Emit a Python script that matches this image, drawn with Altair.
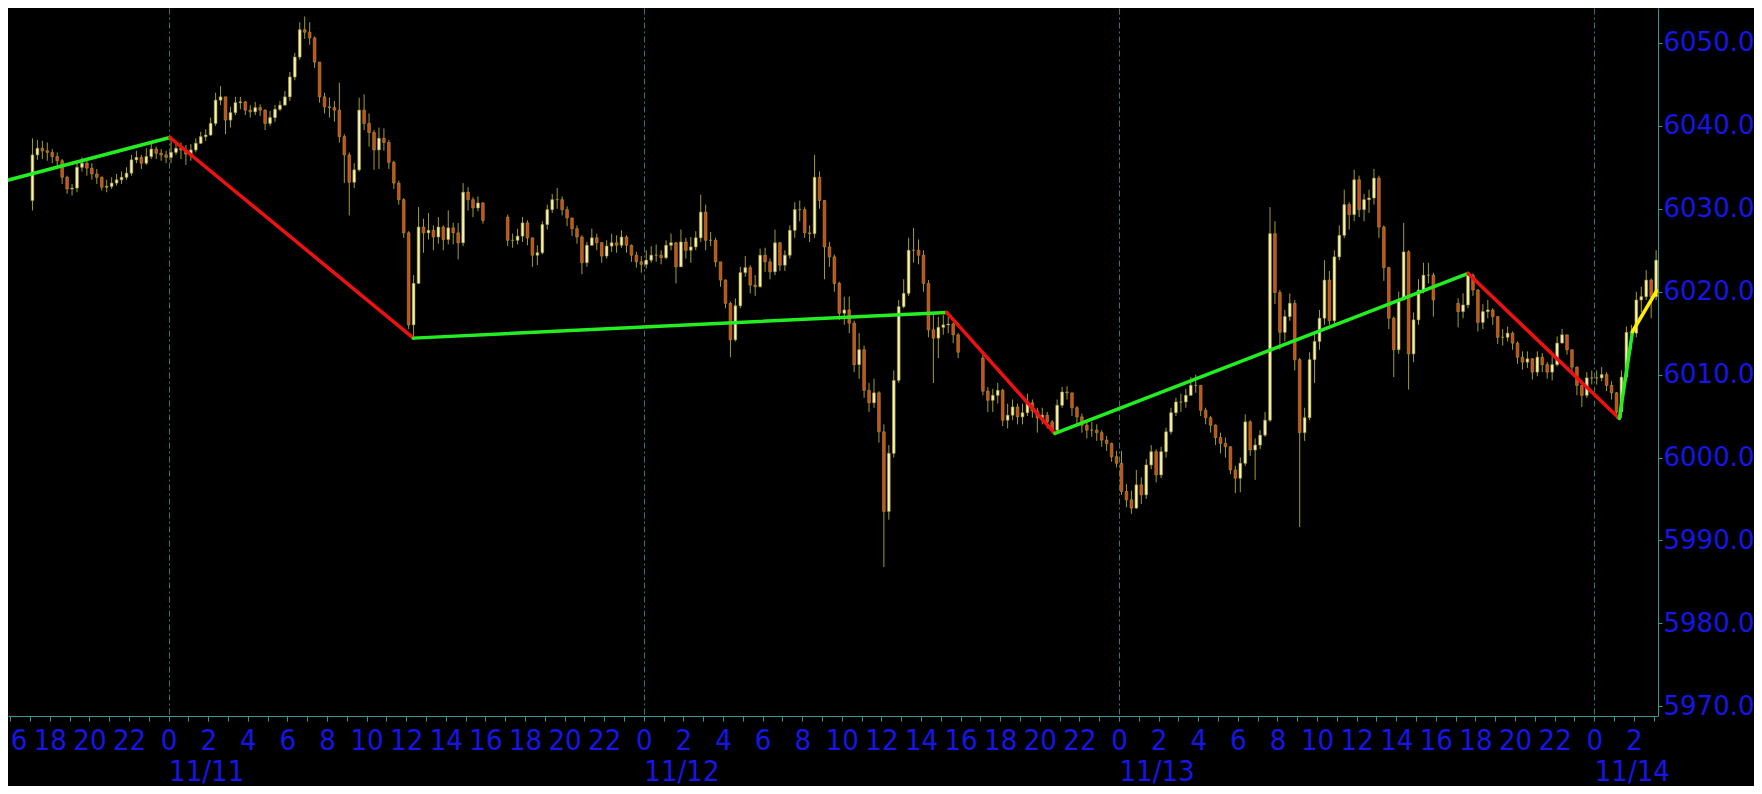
import altair as alt
import pandas as pd
from datetime import datetime

# ---------------- data (15-minute candles) ----------------
BASE = "2024-11-11 00:00"

s1_start = "2024-11-10 17:00"
s1_open = 6031.0
s1_close = [
    6036.5, 6037.3, 6037.0, 6036.8,
    6036.3, 6035.8, 6033.8, 6032.4,
    6032.5, 6035.0, 6035.5, 6034.9,
    6034.2, 6033.8, 6032.6, 6032.7,
    6033.1, 6033.5, 6033.8, 6034.3,
    6035.9, 6036.2, 6035.5, 6036.3,
    6037.2, 6036.7, 6036.5, 6036.2,
    6036.8, 6037.3, 6037.1, 6036.6,
    6037.1, 6037.9, 6038.7, 6038.9,
    6040.3, 6043.1, 6043.5, 6040.7,
    6041.6, 6042.8, 6042.9, 6041.9,
    6041.7, 6042.2, 6041.9, 6040.3,
    6041.0, 6042.0, 6042.5, 6043.5,
    6045.9, 6048.3, 6051.6, 6051.3,
    6050.6, 6047.7, 6043.5, 6042.3,
    6042.2, 6041.9, 6038.7, 6036.5,
    6033.2, 6034.7, 6041.9, 6040.3,
    6039.2, 6037.1, 6038.5, 6038.0,
    6035.6, 6033.1, 6031.1, 6027.1,
    6016.0, 6021.0, 6027.8, 6027.1,
    6027.4, 6026.6, 6027.8, 6026.3,
    6027.7, 6027.1, 6025.9, 6032.0,
    6031.1, 6030.1, 6030.7, 6028.6,
]
s1_high = [
    6038.5, 6038.3, 6038.2, 6038.0,
    6037.2, 6036.8, 6036.0, 6034.0,
    6033.0, 6035.5, 6036.2, 6035.8,
    6035.5, 6034.8, 6033.9, 6033.5,
    6033.8, 6034.2, 6034.5, 6035.0,
    6036.5, 6037.0, 6036.5, 6037.3,
    6038.2, 6037.5, 6037.2, 6037.0,
    6038.6, 6038.2, 6038.0, 6037.7,
    6037.8, 6038.5, 6039.3, 6039.6,
    6041.0, 6044.0, 6044.8, 6043.5,
    6042.3, 6043.5, 6043.5, 6043.0,
    6042.5, 6042.9, 6042.6, 6042.0,
    6041.8, 6042.5, 6043.0, 6044.2,
    6046.5, 6048.8, 6052.5, 6053.2,
    6052.5, 6050.8, 6047.7, 6044.0,
    6043.4, 6043.0, 6045.2, 6039.0,
    6036.8, 6035.5, 6043.4, 6043.8,
    6041.5, 6039.5, 6039.8, 6039.7,
    6038.3, 6035.8, 6033.4, 6031.3,
    6027.3, 6022.0, 6030.2, 6028.8,
    6029.5, 6028.0, 6029.0, 6028.0,
    6029.8, 6028.3, 6028.3, 6033.1,
    6032.6, 6031.4, 6031.5, 6030.8,
]
s1_low = [
    6029.8, 6035.9, 6036.0, 6035.8,
    6035.5, 6035.0, 6033.0, 6031.8,
    6031.6, 6032.0, 6034.5, 6034.0,
    6033.5, 6033.0, 6032.2, 6032.0,
    6032.4, 6032.8, 6033.0, 6033.5,
    6034.0, 6035.5, 6034.8, 6035.3,
    6036.0, 6036.0, 6035.8, 6035.5,
    6035.5, 6036.5, 6036.0, 6035.3,
    6035.8, 6036.8, 6037.8, 6038.2,
    6038.8, 6040.0, 6042.5, 6039.0,
    6039.8, 6041.3, 6042.0, 6041.3,
    6041.0, 6041.3, 6041.2, 6039.5,
    6040.0, 6040.5, 6041.8, 6042.5,
    6043.0, 6045.5, 6048.0, 6050.5,
    6049.8, 6047.0, 6042.8, 6041.5,
    6041.0, 6040.5, 6038.0, 6033.1,
    6029.2, 6032.5, 6034.5, 6039.5,
    6037.5, 6034.7, 6034.8, 6037.0,
    6034.8, 6032.4, 6030.5, 6026.5,
    6015.5, 6014.3, 6021.0, 6024.7,
    6026.3, 6025.0, 6025.8, 6025.0,
    6025.7, 6025.7, 6023.9, 6025.5,
    6029.8, 6029.0, 6029.7, 6028.2,
]

s2_start = "2024-11-11 17:00"
s2_open = 6029.0
s2_close = [
    6026.2, 6026.2, 6026.7, 6028.3,
    6026.5, 6024.4, 6024.7, 6028.1,
    6029.9, 6031.1, 6031.1, 6029.9,
    6028.9, 6027.6, 6026.6, 6023.5,
    6025.6, 6026.5, 6025.9, 6024.3,
    6025.5, 6025.9, 6025.6, 6026.6,
    6025.6, 6024.4, 6023.6, 6023.3,
    6023.8, 6024.4, 6024.4, 6024.1,
    6025.6, 6025.9, 6023.0, 6026.0,
    6025.0, 6025.4, 6026.5, 6029.6,
    6026.2, 6026.2, 6023.6, 6021.4,
    6018.6, 6014.2, 6018.3, 6022.3,
    6022.9, 6020.8, 6020.6, 6024.4,
    6023.6, 6022.4, 6025.9, 6023.2,
    6024.4, 6027.4, 6029.9, 6029.9,
    6027.1, 6027.0, 6033.8, 6031.0,
    6025.4, 6024.2, 6021.0, 6017.4,
    6017.8, 6016.2, 6011.2, 6013.0,
    6008.1, 6006.6, 6007.8, 6003.1,
    5993.5, 6000.5, 6009.3, 6018.2,
    6019.8, 6025.0, 6025.0, 6024.4,
    6021.0, 6015.4, 6014.4, 6015.7,
    6016.0, 6016.1, 6014.8, 6012.7,
]
s2_high = [
    6029.3, 6027.0, 6027.6, 6029.0,
    6028.6, 6026.3, 6025.6, 6028.5,
    6030.5, 6031.8, 6032.5, 6031.5,
    6030.3, 6028.8, 6028.0, 6026.8,
    6026.0, 6027.6, 6027.0, 6026.0,
    6026.2, 6027.0, 6026.8, 6027.4,
    6026.8, 6025.7, 6024.8, 6024.3,
    6025.0, 6025.5, 6025.7, 6025.0,
    6026.2, 6027.0, 6026.0, 6027.5,
    6026.5, 6026.6, 6027.3, 6031.7,
    6030.5, 6027.2, 6026.5, 6023.6,
    6021.5, 6018.8, 6019.2, 6023.0,
    6024.3, 6023.2, 6022.0, 6025.2,
    6025.3, 6024.0, 6027.5, 6026.0,
    6025.0, 6028.0, 6030.8, 6031.0,
    6030.2, 6028.0, 6036.5, 6034.5,
    6031.0, 6026.0, 6024.5, 6021.2,
    6019.4, 6019.4, 6016.5, 6015.0,
    6013.5, 6009.0, 6009.5, 6008.0,
    6004.0, 6001.5, 6010.5, 6019.0,
    6021.5, 6026.5, 6027.7, 6026.3,
    6025.0, 6021.4, 6017.5, 6017.0,
    6017.2, 6017.0, 6016.3, 6015.0,
]
s2_low = [
    6025.5, 6025.3, 6025.7, 6026.0,
    6025.6, 6023.0, 6023.2, 6024.5,
    6027.5, 6029.5, 6030.0, 6029.2,
    6027.9, 6026.7, 6025.8, 6022.1,
    6023.0, 6025.6, 6025.0, 6023.5,
    6024.0, 6024.8, 6024.7, 6025.3,
    6024.7, 6023.6, 6022.9, 6022.3,
    6022.8, 6023.5, 6023.6, 6023.3,
    6023.9, 6025.0, 6021.0, 6023.0,
    6024.0, 6023.5, 6025.0, 6026.0,
    6025.0, 6025.5, 6023.0, 6020.6,
    6018.0, 6012.1, 6014.0, 6018.0,
    6021.8, 6019.8, 6019.5, 6020.5,
    6022.4, 6021.5, 6022.0, 6022.5,
    6022.5, 6024.0, 6026.5, 6028.5,
    6026.5, 6026.0, 6026.5, 6030.0,
    6021.5, 6023.0, 6020.0, 6016.6,
    6016.0, 6015.0, 6010.3, 6009.5,
    6007.2, 6005.5, 6006.0, 6001.8,
    5986.8, 5992.5, 6000.0, 6009.0,
    6018.0, 6019.5, 6023.5, 6023.3,
    6020.0, 6014.5, 6009.0, 6012.0,
    6014.8, 6015.0, 6013.8, 6012.0,
]

s3_start = "2024-11-12 17:00"
s3_open = 6012.0
s3_close = [
    6008.0, 6006.9, 6007.5, 6008.1,
    6004.5, 6005.1, 6006.1, 6004.9,
    6005.4, 6006.6, 6005.6, 6004.8,
    6005.1, 6004.3, 6003.3, 6006.3,
    6007.9, 6007.8, 6006.0, 6004.9,
    6003.9, 6003.3, 6003.3, 6003.0,
    6002.1, 6001.7, 6000.1, 5999.3,
    5995.9, 5994.9, 5993.9, 5996.7,
    5995.5, 5999.1, 6000.7, 5997.9,
    6000.7, 6003.1, 6005.4, 6006.7,
    6006.7, 6007.5, 6008.7, 6008.7,
    6005.7, 6004.8, 6003.9, 6002.4,
    6001.7, 6001.3, 5998.5, 5997.5,
    5999.3, 6004.3, 6000.9, 6001.5,
    6002.7, 6004.5, 6027.0, 6019.9,
    6015.1, 6017.0, 6018.6, 6011.8,
    6003.0, 6004.8, 6011.8, 6014.0,
    6016.8, 6021.4, 6016.5, 6024.2,
    6026.8, 6030.5, 6029.3, 6033.5,
    6029.9, 6031.1, 6031.3, 6033.7,
    6027.8, 6022.9, 6016.8, 6013.0,
    6019.0, 6024.8, 6012.5, 6016.6,
    6020.2, 6022.0, 6022.0, 6019.0,
]
s3_high = [
    6012.5, 6008.5, 6008.3, 6009.0,
    6008.3, 6006.5, 6007.0, 6006.5,
    6006.5, 6007.7, 6007.0, 6006.0,
    6006.0, 6005.5, 6004.5, 6007.0,
    6008.5, 6008.6, 6007.8, 6006.2,
    6005.3, 6004.5, 6004.3, 6004.0,
    6003.3, 6002.6, 6001.8, 6000.8,
    6000.8, 5996.8, 5996.0, 5998.5,
    5997.6, 5999.8, 6001.5, 6001.0,
    6001.3, 6003.6, 6006.0, 6007.2,
    6007.7, 6008.3, 6009.7, 6010.0,
    6008.7, 6006.0, 6005.0, 6004.0,
    6003.0, 6002.4, 6001.3, 5999.0,
    6000.0, 6005.2, 6004.5, 6002.3,
    6003.3, 6005.5, 6030.2, 6028.5,
    6020.2, 6017.8, 6019.8, 6019.0,
    6012.0, 6006.0, 6012.7, 6015.0,
    6017.8, 6023.8, 6022.5, 6025.0,
    6028.0, 6032.3, 6030.8, 6034.7,
    6034.0, 6031.8, 6032.3, 6034.8,
    6034.0, 6028.0, 6023.0, 6017.0,
    6020.0, 6028.3, 6025.0, 6017.5,
    6021.5, 6023.5, 6023.5, 6022.3,
]
s3_low = [
    6007.5, 6005.5, 6005.5, 6006.5,
    6003.8, 6003.5, 6004.5, 6004.0,
    6004.0, 6005.0, 6004.8, 6003.0,
    6004.0, 6003.5, 6002.9, 6003.0,
    6006.0, 6007.0, 6005.0, 6004.0,
    6003.0, 6002.3, 6002.5, 6002.0,
    6001.3, 6000.8, 5999.5, 5998.8,
    5995.5, 5994.0, 5993.2, 5993.8,
    5994.4, 5995.0, 5998.6, 5997.0,
    5997.5, 6000.0, 6002.8, 6005.0,
    6005.5, 6006.0, 6007.5, 6007.8,
    6005.0, 6004.0, 6003.0, 6001.5,
    6000.5, 6000.0, 5998.0, 5995.7,
    5995.8, 5999.0, 6000.2, 5997.3,
    6001.0, 6002.5, 6004.3, 6018.5,
    6013.0, 6014.0, 6016.5, 6010.5,
    5991.6, 6002.0, 6004.5, 6009.0,
    6013.0, 6016.0, 6016.0, 6016.0,
    6023.8, 6026.5, 6027.5, 6028.5,
    6029.0, 6028.5, 6029.5, 6030.5,
    6026.5, 6021.3, 6015.5, 6009.7,
    6012.5, 6019.0, 6008.2, 6011.5,
    6016.0, 6019.8, 6021.0, 6017.0,
]

s4_start = "2024-11-13 17:00"
s4_open = 6018.6
s4_close = [
    6017.6, 6018.4, 6022.0, 6020.2,
    6016.3, 6017.6, 6017.8, 6017.0,
    6014.5, 6014.5, 6015.0, 6013.8,
    6012.1, 6011.5, 6011.9, 6010.3,
    6012.1, 6011.2, 6010.3, 6011.2,
    6013.8, 6014.8, 6013.0, 6010.9,
    6008.7, 6007.5, 6009.6, 6009.6,
    6009.6, 6010.0, 6008.7, 6007.8,
    6005.5, 6009.7, 6015.1, 6015.0,
    6019.0, 6019.4, 6021.4, 6019.4,
    6023.8,
]
s4_high = [
    6019.2, 6019.8, 6022.2, 6022.2,
    6020.3, 6018.5, 6019.0, 6018.0,
    6017.0, 6015.5, 6015.8, 6015.2,
    6014.0, 6012.8, 6012.8, 6012.0,
    6012.8, 6012.6, 6011.5, 6012.2,
    6014.6, 6015.5, 6014.8, 6013.0,
    6011.0, 6008.8, 6010.3, 6010.5,
    6010.5, 6010.9, 6010.3, 6009.2,
    6007.9, 6010.5, 6015.8, 6016.0,
    6020.0, 6020.6, 6022.6, 6021.6,
    6025.0,
]
s4_low = [
    6015.7, 6016.8, 6018.0, 6019.5,
    6015.2, 6015.5, 6016.8, 6016.0,
    6013.7, 6013.5, 6014.0, 6013.0,
    6011.3, 6010.6, 6010.8, 6009.4,
    6009.8, 6010.3, 6009.5, 6009.3,
    6011.0, 6013.8, 6012.4, 6010.0,
    6007.5, 6006.1, 6007.2, 6008.8,
    6008.8, 6009.2, 6008.0, 6007.0,
    6004.7, 6004.8, 6009.5, 6013.0,
    6014.5, 6017.5, 6019.0, 6016.8,
    6019.0,
]

# ZigZag pivots
zz_time = ["2024-11-10 15:00", "2024-11-11 00:04", "2024-11-11 12:22",
           "2024-11-12 15:18", "2024-11-12 20:46", "2024-11-13 17:38",
           "2024-11-14 01:16", "2024-11-14 01:56", "2024-11-14 03:09"]
zz_price = [6032.9, 6038.6, 6014.4, 6017.5, 6002.9, 6022.2, 6004.7, 6015.2, 6020.1]
zz_color = ["#22ee22", "#ee1111", "#22ee22", "#ee1111",
            "#22ee22", "#ee1111", "#22ee22", "#ffee00"]

# axis labels
y_ticks = [5970, 5980, 5990, 6000, 6010, 6020, 6030, 6040, 6050]
day_ticks = [0, 24, 48, 72]
day_labels = ["11/11", "11/12", "11/13", "11/14"]

# ---------------- build tables ----------------
def hours(ts):
    a = datetime.strptime(ts, "%Y-%m-%d %H:%M")
    b = datetime.strptime(BASE, "%Y-%m-%d %H:%M")
    return (a - b).total_seconds() / 3600.0

UP = "#f6f2b4"
DOWN = "#d24a1a"
OLIVE = "#a39b34"

sessions = [
    (s1_start, s1_open, s1_close, s1_high, s1_low),
    (s2_start, s2_open, s2_close, s2_high, s2_low),
    (s3_start, s3_open, s3_close, s3_high, s3_low),
    (s4_start, s4_open, s4_close, s4_high, s4_low),
]
rows = []
for start, first_open, closes, highs, lows in sessions:
    h0 = hours(start)
    prev = first_open
    for i, (c, hi, lo) in enumerate(zip(closes, highs, lows)):
        o = prev
        rows.append({"h": h0 + 0.25 * i + 0.125, "o": o, "c": c,
                     "hi": max(hi, o, c), "lo": min(lo, o, c),
                     "fillc": UP if c >= o else DOWN})
        prev = c
candles = pd.DataFrame(rows)

zz_rows = []
for k, col in enumerate(zz_color):
    for j in (k, k + 1):
        zz_rows.append({"h": hours(zz_time[j]), "p": zz_price[j], "seg": k, "col": col})
zz_df = pd.DataFrame(zz_rows)

# ---------------- chart ----------------
BLUE = "#1616e6"
TEAL = "#3a9696"
GRID = "#2c7878"
NARROW = "Liberation Sans Narrow, DejaVu Sans Condensed, Roboto Condensed, sans-serif"

W, H = 1650, 708
xs = alt.Scale(domain=[-8.11, 75.22], nice=False, zero=False, padding=0)
ys = alt.Scale(domain=[5968.82, 6054.22], nice=False, zero=False, padding=0)

hour_axis = alt.Axis(
    orient="bottom", values=list(range(-8, 76)), title=None,
    labelExpr="((datum.value % 24 + 24) % 24) % 2 == 0 ? '' + ((datum.value % 24 + 24) % 24) : ''",
    labelFont=NARROW, labelFontSize=29, labelColor=BLUE, labelPadding=5,
    labelFlush=False, labelOverlap=False, labelBound=False,
    tickColor=TEAL, tickSize=5, tickWidth=1,
    domainColor=TEAL, domainWidth=1, grid=False,
)
day_axis = alt.Axis(
    orient="bottom", values=day_ticks, title=None,
    labelExpr=f"{day_labels}[round(datum.value / 24)]",
    labelFont=NARROW, labelFontSize=29, labelColor=BLUE, labelAlign="left",
    labelPadding=41, labelFlush=False, labelOverlap=False, labelBound=False,
    ticks=False, tickSize=0, domain=False,
    grid=True, gridColor=GRID, gridDash=[6, 3, 2, 3], gridWidth=1,
)
y_axis = alt.Axis(
    orient="right", values=y_ticks, format=".2f", title=None,
    labelFont="DejaVu Sans", labelFontSize=26, labelColor=BLUE, labelPadding=1,
    labelFlush=False, labelOverlap=False, labelBound=False,
    tickColor=TEAL, tickSize=4, domainColor=TEAL, domainWidth=1, grid=False,
)

wicks = alt.Chart(candles).mark_rule(color=OLIVE, strokeWidth=1, clip=True).encode(
    x=alt.X("h:Q", scale=xs, axis=hour_axis),
    y=alt.Y("lo:Q", scale=ys, axis=y_axis),
    y2="hi:Q",
)
bodies = alt.Chart(candles).mark_bar(size=2.7, stroke=OLIVE, strokeWidth=0.6, clip=True).encode(
    x=alt.X("h:Q", scale=xs, axis=None),
    y=alt.Y("o:Q", scale=ys, axis=y_axis),
    y2="c:Q",
    fill=alt.Fill("fillc:N", scale=None),
)
zigzag = alt.Chart(zz_df).mark_line(strokeWidth=3.5, strokeCap="round", clip=True).encode(
    x=alt.X("h:Q", scale=xs, axis=day_axis),
    y=alt.Y("p:Q", scale=ys, axis=y_axis),
    detail="seg:N",
    color=alt.Color("col:N", scale=None),
)

chart = (
    alt.layer(wicks, bodies, zigzag)
    .resolve_axis(x="independent")
    .properties(
        width=W, height=H, background="black",
        padding={"left": 0, "top": 0, "right": 96, "bottom": 70},
        autosize=alt.AutoSizeParams(type="none"),
    )
    .configure_view(strokeWidth=0)
)

chart.save("out.html", embed_options={"renderer": "svg", "actions": False})
